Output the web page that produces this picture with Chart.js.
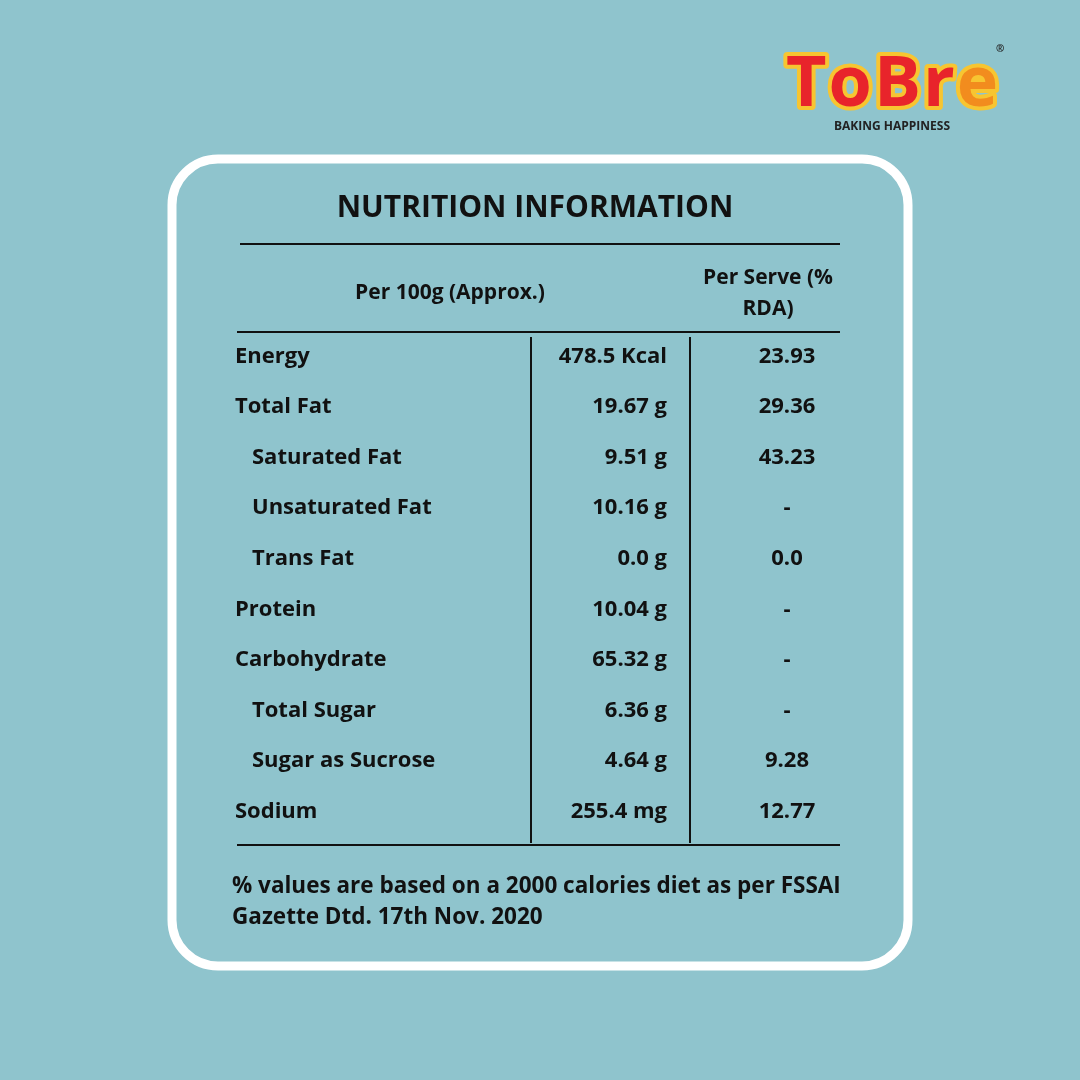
<!DOCTYPE html>
<html>
<head>
<meta charset="utf-8">
<script src="https://cdn.jsdelivr.net/npm/chart.js@4/dist/chart.umd.min.js"></script>
<style>
  html, body { margin: 0; padding: 0; background: #8fc4cd; }
  #wrap { width: 1080px; height: 1080px; }
</style>
</head>
<body>
<div id="wrap"><canvas id="c" width="1080" height="1080"></canvas></div>
<script>
// rows of the table
const nutrients = ["Energy", "Total Fat", "Saturated Fat", "Unsaturated Fat", "Trans Fat",
  "Protein", "Carbohydrate", "Total Sugar", "Sugar as Sucrose", "Sodium"];
const indented = [false, false, true, true, true, false, false, true, true, false];
const per100g = ["478.5 Kcal", "19.67 g", "9.51 g", "10.16 g", "0.0 g",
  "10.04 g", "65.32 g", "6.36 g", "4.64 g", "255.4 mg"];
const perServe = ["23.93", "29.36", "43.23", "-", "0.0", "-", "-", "-", "9.28", "12.77"];

const FONT = '"Open Sans", "DejaVu Sans", sans-serif';
const INK = "#111";

function roundRect(ctx, x, y, w, h, r) {
  ctx.beginPath();
  ctx.moveTo(x + r, y);
  ctx.arcTo(x + w, y, x + w, y + h, r);
  ctx.arcTo(x + w, y + h, x, y + h, r);
  ctx.arcTo(x, y + h, x, y, r);
  ctx.arcTo(x, y, x + w, y, r);
  ctx.closePath();
}

// draws the card, the headers and every cell at the scale's row positions
const tablePlugin = {
  id: "table",
  afterDraw(chart) {
    const ctx = chart.ctx;
    const y = chart.scales.y;
    ctx.save();

    // logo
    ctx.textBaseline = "alphabetic";
    ctx.textAlign = "left";
    ctx.font = "bold 70px " + FONT;
    ctx.lineJoin = "round";
    const letters = [["T", "#e8242b"], ["o", "#e8242b"], ["B", "#e8242b"], ["r", "#e8242b"], ["e", "#f28c1e"]];
    let lx = 786;
    letters.forEach(([ch, col]) => {
      ctx.lineWidth = 8;
      ctx.strokeStyle = "#f7c531";
      ctx.strokeText(ch, lx, 106);
      ctx.fillStyle = col;
      ctx.fillText(ch, lx, 106);
      lx += ctx.measureText(ch).width + 2;
    });
    ctx.font = "bold 10px " + FONT;
    ctx.fillStyle = "#222";
    ctx.fillText("®", lx - 4, 52);
    ctx.textAlign = "center";
    ctx.font = "bold 12px " + FONT;
    ctx.fillText("BAKING HAPPINESS", 892, 130);

    // card
    ctx.strokeStyle = "#fff";
    ctx.lineWidth = 9;
    roundRect(ctx, 172, 159, 736, 807, 46);
    ctx.stroke();

    ctx.fillStyle = INK;
    ctx.textBaseline = "middle";
    ctx.font = "bold 30px " + FONT;
    ctx.fillText("NUTRITION INFORMATION", 535, 208);

    ctx.font = "bold 21px " + FONT;
    ctx.fillText("Per 100g (Approx.)", 450, 293);
    ctx.fillText("Per Serve (%", 768, 278);
    ctx.fillText("RDA)", 768, 309);

    // rules
    ctx.strokeStyle = INK;
    ctx.lineWidth = 2;
    [[240, 244], [237, 332], [237, 845]].forEach(([x0, yy]) => {
      ctx.beginPath(); ctx.moveTo(x0, yy); ctx.lineTo(840, yy); ctx.stroke();
    });
    [531, 690].forEach(xx => {
      ctx.beginPath(); ctx.moveTo(xx, 337); ctx.lineTo(xx, 843); ctx.stroke();
    });

    // cells
    ctx.font = "bold 22px " + FONT;
    nutrients.forEach((n, i) => {
      const py = y.getPixelForValue(i);
      ctx.textAlign = "left";
      ctx.fillText(n, indented[i] ? 252 : 235, py);
      ctx.textAlign = "right";
      ctx.fillText(per100g[i], 667, py);
      ctx.textAlign = "center";
      ctx.fillText(perServe[i], 787, py);
    });

    // footnote
    ctx.textAlign = "left";
    ctx.font = "bold 22.5px " + FONT;
    ctx.fillText("% values are based on a 2000 calories diet as per FSSAI", 232, 887);
    ctx.fillText("Gazette Dtd. 17th Nov. 2020", 232, 918);
    ctx.restore();
  }
};

new Chart(document.getElementById("c"), {
  type: "scatter",
  data: {
    labels: nutrients,
    datasets: [{ data: nutrients.map((n, i) => ({ x: 0, y: n })), pointRadius: 0 }]
  },
  options: {
    responsive: false,
    animation: false,
    events: [],
    layout: { padding: { top: 331, bottom: 243, left: 0, right: 0 } },
    scales: {
      x: { type: "linear", min: 0, max: 1080, display: false },
      y: { type: "category", labels: nutrients, offset: true, display: false }
    },
    plugins: { legend: { display: false }, tooltip: { enabled: false } }
  },
  plugins: [tablePlugin]
});
</script>
</body>
</html>
